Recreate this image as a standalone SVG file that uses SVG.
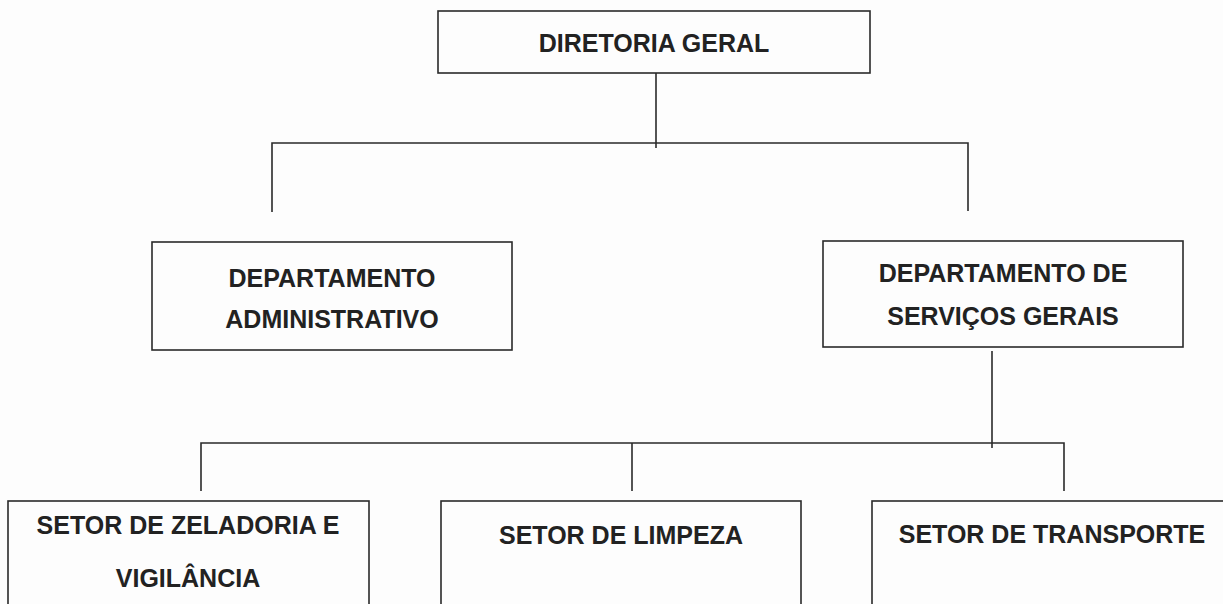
<svg xmlns="http://www.w3.org/2000/svg" width="1223" height="604" viewBox="0 0 1223 604">
<style>
.box{fill:none;stroke:#2a2a2a;stroke-width:1.6}
.ln{fill:none;stroke:#2a2a2a;stroke-width:1.6}
.t{font-family:"Liberation Sans",Arial,sans-serif;font-weight:bold;font-size:25px;fill:#222;text-anchor:middle}
</style>
<rect width="1223" height="604" fill="#fdfdfd"/>
<g id="connectors">
<path class="ln" d="M656 73V148"/>
<path class="ln" d="M272 212V143H968V211"/>
<path class="ln" d="M992 351V448"/>
<path class="ln" d="M201 491V443H1064V491"/>
<path class="ln" d="M632 443V491"/>
</g>
<g id="diretoria">
<rect class="box" x="438" y="11" width="432" height="62"/>
<text class="t" x="654" y="52">DIRETORIA GERAL</text>
</g>
<g id="dep-adm">
<rect class="box" x="152" y="242" width="360" height="108"/>
<text class="t" x="332" y="287">DEPARTAMENTO</text>
<text class="t" x="332" y="328">ADMINISTRATIVO</text>
</g>
<g id="dep-serv">
<rect class="box" x="823" y="241" width="360" height="106"/>
<text class="t" x="1003" y="282">DEPARTAMENTO DE</text>
<text class="t" x="1003" y="325">SERVIÇOS GERAIS</text>
</g>
<g id="setor-zeladoria">
<rect class="box" x="8" y="501" width="361" height="120"/>
<text class="t" x="188" y="534">SETOR DE ZELADORIA E</text>
<text class="t" x="188" y="587">VIGILÂNCIA</text>
</g>
<g id="setor-limpeza">
<rect class="box" x="441" y="501" width="360" height="120"/>
<text class="t" x="621" y="544">SETOR DE LIMPEZA</text>
</g>
<g id="setor-transporte">
<rect class="box" x="872" y="501" width="360" height="120"/>
<text class="t" x="1052" y="543">SETOR DE TRANSPORTE</text>
</g>
</svg>
